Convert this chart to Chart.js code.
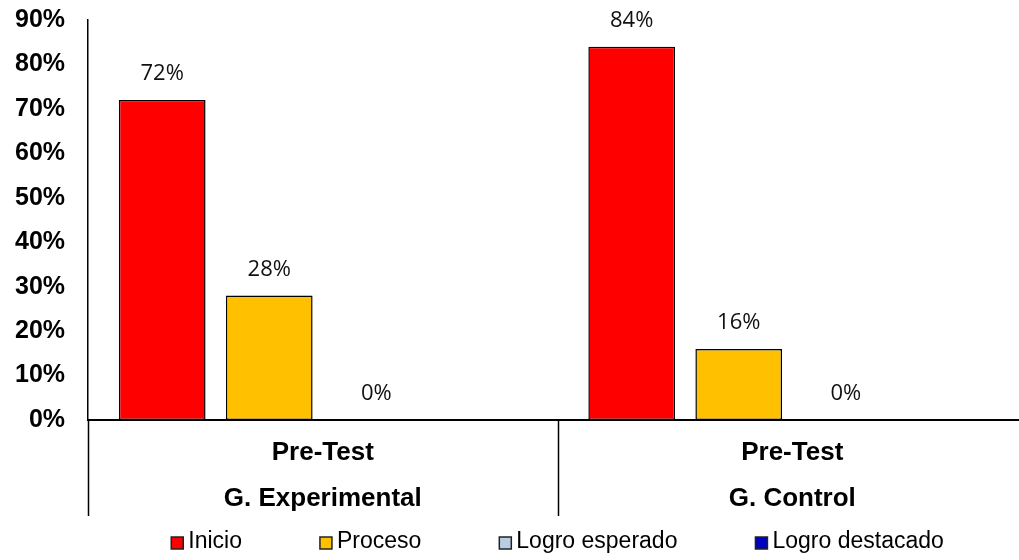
<!DOCTYPE html>
<html>
<head>
<meta charset="utf-8">
<script src="https://cdn.jsdelivr.net/npm/chart.js@4.4.1/dist/chart.umd.min.js"></script>
<style>
  html, body { margin: 0; background: #fff; overflow: hidden; }
  #wrap { width: 1019px; height: 560px; overflow: hidden; }
</style>
</head>
<body>
<div id="wrap"><canvas id="grafico" width="1027" height="560"></canvas></div>
<script>
// datos
const grupos = [["Pre-Test", "G. Experimental"], ["Pre-Test", "G. Control"]];
const niveles = ["Inicio", "Proceso", "Logro esperado", "Logro destacado"];
const inicio = [72, 84];
const proceso = [28, 16];
const logroEsperado = [0, 0];
const logroDestacado = [null, null];
const colores = ["#FF0000", "#FFC000", "#B9CDE5", "#0000C0"];
const yMax = 90;
const yPaso = 10;

// etiquetas de valor encima de cada barra
const etiquetas = {
  id: "etiquetas",
  afterDatasetsDraw(chart) {
    const ctx = chart.ctx;
    ctx.save();
    ctx.font = "22px 'Open Sans'";
    ctx.fillStyle = "#111";
    ctx.textAlign = "center";
    ctx.textBaseline = "middle";
    chart.data.datasets.forEach((ds, i) => {
      chart.getDatasetMeta(i).data.forEach((bar, j) => {
        const v = ds.data[j];
        if (v === null || v === undefined) return;
        ctx.fillText(v + "%", bar.x, bar.y - 26);
      });
    });
    ctx.restore();
  }
};

// lineas que separan los grupos bajo el eje
const separadores = {
  id: "separadores",
  afterDraw(chart) {
    const ctx = chart.ctx;
    const x = chart.scales.x;
    const area = chart.chartArea;
    ctx.save();
    ctx.strokeStyle = "#000";
    ctx.lineWidth = 1.5;
    for (let i = 0; i <= grupos.length; i++) {
      const px = Math.round(x.getPixelForValue(i - 0.5)) + 0.5;
      ctx.beginPath();
      ctx.moveTo(px, area.bottom);
      ctx.lineTo(px, area.bottom + 96);
      ctx.stroke();
    }
    ctx.restore();
  }
};

// leyenda dibujada a mano para imitar el espaciado
const leyenda = {
  id: "leyenda",
  afterDraw(chart) {
    const ctx = chart.ctx;
    const area = chart.chartArea;
    const caja = 12, hueco = 5, sep = 78, y = 542;
    ctx.save();
    ctx.font = "23px 'Liberation Sans', Arial, sans-serif";
    ctx.textBaseline = "middle";
    const anchos = chart.data.datasets.map(ds => ctx.measureText(ds.label).width);
    let total = 0;
    anchos.forEach((w, i) => { total += caja + hueco + w + (i < anchos.length - 1 ? sep : 0); });
    let x = (area.left + area.right) / 2 - total / 2;
    chart.data.datasets.forEach((ds, i) => {
      ctx.fillStyle = ds.backgroundColor;
      ctx.fillRect(x, y - caja / 2 + 1, caja, caja);
      ctx.strokeStyle = "#222";
      ctx.lineWidth = 1.5;
      ctx.strokeRect(x, y - caja / 2 + 1, caja, caja);
      ctx.fillStyle = "#000";
      ctx.fillText(ds.label, x + caja + hueco, y);
      x += caja + hueco + anchos[i] + sep;
    });
    ctx.restore();
  }
};

const series = [inicio, proceso, logroEsperado, logroDestacado];

new Chart(document.getElementById("grafico").getContext("2d"), {
  type: "bar",
  data: {
    labels: grupos,
    datasets: niveles.map((n, i) => ({
      label: n,
      data: series[i],
      backgroundColor: colores[i],
      borderColor: "#000",
      borderWidth: 1.5,
      borderSkipped: false,
      categoryPercentage: 0.912,
      barPercentage: 0.81
    }))
  },
  options: {
    responsive: false,
    animation: false,
    layout: { padding: { left: 0, right: 0, top: 20, bottom: 36 } },
    plugins: {
      legend: { display: false },
      tooltip: { enabled: false }
    },
    scales: {
      x: {
        grid: { display: false },
        border: { display: true, color: "#000", width: 2 },
        ticks: {
          color: "#000",
          padding: 2,
          maxRotation: 0,
          autoSkip: false,
          font: { family: "'Liberation Sans', Arial, sans-serif", size: 26, weight: "bold", lineHeight: "46px" }
        }
      },
      y: {
        min: 0,
        max: yMax,
        grid: { display: false },
        border: { display: true, color: "#000", width: 1.5 },
        afterFit: (scale) => { scale.paddingTop = 0; scale.paddingBottom = 0; },
        ticks: {
          stepSize: yPaso,
          color: "#000",
          padding: 15,
          callback: v => v + "%",
          font: { family: "'Liberation Sans', Arial, sans-serif", size: 25, weight: "bold" }
        }
      }
    }
  },
  plugins: [etiquetas, separadores, leyenda]
});
</script>
</body>
</html>
